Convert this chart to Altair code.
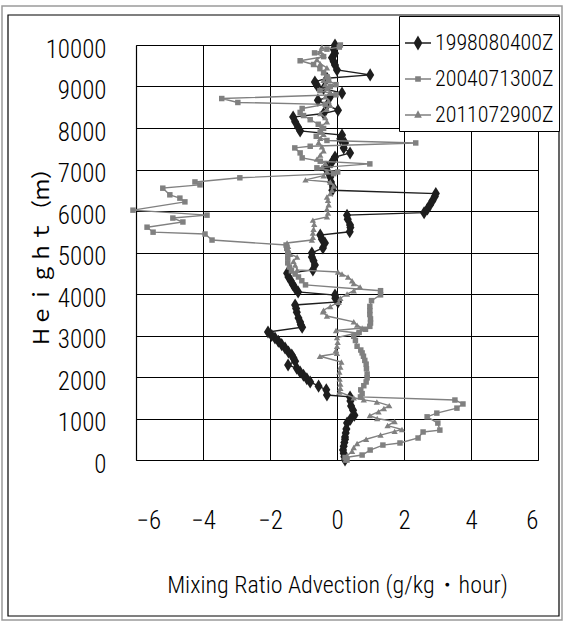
import altair as alt
import pandas as pd

FONT = "Roboto Condensed, DejaVu Sans Condensed, sans-serif"

series_names = ["1998080400Z", "2004071300Z", "2011072900Z"]
series_colors = ["#1e1e1e", "#808080", "#808080"]

# 1998080400Z (black diamonds)
h1 = [0, 80, 160, 240, 330, 420, 500, 554, 650, 750, 890, 980, 1080, 1200, 1300, 1420, 1520, 1565, 1690, 1780,
      1880, 1960, 2040, 2120, 2210, 2290, 2380, 2460, 2530, 2600, 2700, 2780, 2860, 2940, 3000, 3085, 3200, 3260, 3325, 3420,
      3560, 3650, 3735, 3810, 3900, 3975, 4050, 4140, 4230, 4320, 4410, 4500, 4580, 4700, 4800, 4890, 4990, 5110, 5230, 5320,
      5420, 5500, 5600, 5660, 5800, 5900, 5960, 6050, 6150, 6250, 6350, 6420, 6500, 6580, 6700, 6820, 6950, 7060, 7180, 7300,
      7400, 7520, 7640, 7740, 7830, 7930, 8020, 8150, 8265, 8350, 8430, 8550, 8670, 8760, 8840, 8950, 9030, 9110, 9200, 9280,
      9400, 9520, 9600, 9690, 9800, 9900, 10000]
a1 = [0.24, 0.22, 0.2, 0.18, 0.2, 0.22, 0.24, 0.24, 0.26, 0.28, 0.3, 0.4, 0.52, 0.48, 0.42, 0.4, 0.39, -0.3, -0.32, -0.55,
      -0.8, -0.9, -1.0, -1.1, -1.2, -1.46, -1.25, -1.3, -1.35, -1.45, -1.55, -1.65, -1.75, -1.85, -1.95, -2.06, -1.04, -1.08, -1.1, -1.15,
      -1.2, -1.22, -1.25, 0.03, -0.05, -0.06, -1.16, -1.25, -1.32, -1.38, -1.45, -1.49, -0.72, -0.66, -0.7, -0.75, -0.75, -0.42, -0.36, -0.45,
      -0.5, 0.38, 0.4, 0.39, 0.32, 0.3, 2.6, 2.7, 2.78, 2.85, 2.92, 2.95, -0.14, -0.12, -0.18, -0.2, -0.28, -0.3, -0.15, -0.06,
      0.39, 0.2, 0.24, 0.1, 0.15, -1.1, -1.16, -1.25, -1.31, -0.4, 0.03, -0.3, -0.57, -0.2, 0.15, -0.4, -0.6, -0.66, -0.3, 0.99,
      0.0, -0.06, -0.1, -0.15, -0.06, -0.1, -0.06]

# 2004071300Z (grey squares)
h2 = [0, 60, 120, 240, 360, 410, 530, 675, 720, 890, 1040, 1130, 1250, 1350, 1445, 1520, 1600, 1690, 1790, 1880,
      1980, 2070, 2200, 2310, 2400, 2500, 2580, 2650, 2740, 2880, 2980, 3075, 3150, 3220, 3300, 3400, 3505, 3600, 3700, 3840,
      3980, 4080, 4220, 4320, 4410, 4480, 4560, 4650, 4750, 4870, 4990, 5100, 5180, 5300, 5445, 5490, 5610, 5735, 5830, 5900,
      6020, 6220, 6310, 6390, 6550, 6630, 6700, 6800, 6900, 6940, 7040, 7135, 7200, 7280, 7400, 7520, 7560, 7640, 7700, 7800,
      7900, 7990, 8090, 8200, 8300, 8375, 8470, 8570, 8615, 8710, 8800, 8900, 9000, 9045, 9140, 9235, 9330, 9430, 9530, 9620,
      9720, 9810, 9900, 9950, 10000]
a2 = [0.3, 0.24, 0.75, 0.99, 1.37, 1.88, 2.42, 2.57, 3.07, 3.01, 2.69, 2.98, 3.58, 3.76, 3.52, 0.7, 0.75, 0.71, 0.8, 0.87,
      0.9, 0.9, 0.88, 0.87, 0.83, 0.79, 0.75, 0.71, 0.6, 0.55, 0.5, 0.66, 0.85, 0.98, 1.0, 1.0, 0.98, 0.98, 0.98, 1.03,
      1.3, 1.3, -0.94, -1.05, -1.15, -1.25, -1.36, -1.42, -1.47, -1.47, -1.47, -1.5, -1.52, -3.73, -3.94, -5.49, -5.67, -4.6, -4.9, -3.88,
      -6.09, -4.54, -4.69, -4.99, -5.2, -4.09, -4.24, -2.9, -0.1, 0.02, -0.6, 0.98, -0.5, -1.04, -1.1, -1.26, -0.8, 2.35, -0.3, -0.62,
      -0.5, -0.4, -0.56, -0.8, -1.0, -1.1, -1.04, -0.35, -2.96, -3.44, -0.03, -0.51, -0.2, -0.03, -0.25, -0.3, -0.4, -0.51, -0.7, -1.1,
      -0.4, -0.67, -0.3, 0.07, 0.1]

# 2011072900Z (grey triangles)
h3 = [0, 100, 210, 300, 400, 500, 600, 690, 735, 830, 925, 1000, 1070, 1165, 1240, 1310, 1400, 1450, 1500, 1640,
      1730, 1830, 1950, 2120, 2240, 2360, 2500, 2570, 2645, 2740, 2840, 2950, 3060, 3120, 3180, 3250, 3330, 3470, 3570, 3610,
      3700, 3800, 3900, 4000, 4080, 4170, 4250, 4320, 4410, 4480, 4530, 4580, 4700, 4790, 4890, 4960, 5060, 5150, 5230, 5300,
      5370, 5470, 5560, 5680, 5780, 5860, 5950, 6050, 6150, 6260, 6340, 6420, 6500, 6600, 6700, 6750, 6850, 6950, 7050, 7150,
      7250, 7350, 7450, 7550, 7650, 7750, 7850, 7950, 8050, 8150, 8250, 8350, 8450, 8550, 8650, 8750, 8850, 8950, 9050, 9150,
      9250, 9350, 9450, 9550, 9650, 9750, 9850, 9950]
a3 = [0.25, 0.3, 0.45, 0.5, 0.6, 0.87, 1.3, 1.72, 1.94, 1.51, 1.72, 1.2, 0.98, 1.24, 1.4, 1.56, 1.19, 0.8, 0.5, 0.07,
      0.1, 0.1, 0.08, 0.07, 0.1, 0.13, -0.51, 0.0, -0.03, 0.0, 0.02, 0.0, 0.6, -0.03, 0.75, 0.6, 0.5, -0.3, -0.42, -0.4,
      -0.2, 0.05, 0.1, 0.3, 0.5, 0.69, 0.5, 0.45, 0.33, 0.15, 0.03, -1.19, -1.25, -1.3, -1.19, -1.4, -1.45, -1.46, -1.49, -0.75,
      -0.72, -0.72, -0.7, -0.68, -0.72, -0.3, -0.27, -0.3, -0.25, -0.27, -0.3, -0.2, -0.15, -0.1, -0.2, -0.94, -0.4, -0.3, -0.45, -0.35,
      -0.6, -0.5, -0.4, -0.45, -0.55, -0.5, -0.4, -0.5, -0.45, -0.3, -0.35, -0.5, -0.3, -0.2, -0.25, -0.35, -0.2, -0.3, -0.35, -0.4,
      -0.25, -0.4, -0.3, -0.5, -0.6, -0.4, -0.5, -0.45]

x_ticks = [-6, -4, -2, 0, 2, 4, 6]
y_ticks = [0, 1000, 2000, 3000, 4000, 5000, 6000, 7000, 8000, 9000, 10000]

frames = []
for name, hs, vs in [(series_names[0], h1, a1), (series_names[1], h2, a2), (series_names[2], h3, a3)]:
    frames.append(pd.DataFrame({"series": name, "h": hs, "adv": vs}))
df = pd.concat(frames, ignore_index=True)

marker_shapes = [
    "M0,-1L0.62,0L0,1L-0.62,0Z",
    "square",
    "triangle-up",
]
marker_sizes = [170, 30, 40]
legend_paths = [
    "M-1,0L1,0M0,-0.46L0.27,0L0,0.46L-0.27,0Z",
    "M-1,0L1,0M-0.16,-0.16L0.16,-0.16L0.16,0.16L-0.16,0.16Z",
    "M-1,0L1,0M0,-0.24L0.2,0.16L-0.2,0.16Z",
]

x_enc = alt.X(
    "adv:Q",
    scale=alt.Scale(domain=[-6, 6], nice=False),
    axis=alt.Axis(
        values=x_ticks, format="d", ticks=False, labelPadding=48,
        labelFont=FONT, labelFontSize=25, labelFontWeight=300, labelColor="black",
        domainColor="black", domainWidth=1.2, gridColor="black", gridWidth=1,
        title="Mixing Ratio Advection (g/kg・hour)",
        titleFont=FONT, titleFontSize=24, titleFontWeight=300, titleColor="black",
        titleX=201, titleY=132, titleAlign="center", titleBaseline="alphabetic",
    ),
)
y_enc = alt.Y(
    "h:Q",
    scale=alt.Scale(domain=[0, 10000], nice=False),
    axis=alt.Axis(
        values=y_ticks, format="d", ticks=False, labelPadding=30, labelOffset=4,
        labelFont=FONT, labelFontSize=25, labelFontWeight=300, labelColor="black",
        domainColor="black", domainWidth=1.2, gridColor="black", gridWidth=1,
        title="Ｈｅｉｇｈｔ（ｍ）",
        titleFont="Noto Sans CJK JP", titleFontSize=21, titleFontWeight="normal", titleColor="black",
        titleAngle=270, titleX=-94, titleY=207, titleAlign="center", titleBaseline="middle",
    ),
)

layers = []
for i, name in enumerate(series_names):
    layer = (
        alt.Chart(df)
        .transform_filter(alt.datum.series == name)
        .mark_line(
            color=series_colors[i], strokeWidth=1.4,
            point=alt.OverlayMarkDef(shape=marker_shapes[i], size=marker_sizes[i], filled=True,
                                     color=series_colors[i], opacity=1),
        )
        .encode(x=x_enc, y=y_enc, order=alt.Order("h:Q"))
    )
    layers.append(layer)

legend_layer = (
    alt.Chart(df)
    .mark_point(opacity=0, filled=True, strokeWidth=1.5)
    .encode(
        x=x_enc, y=y_enc,
        shape=alt.Shape("series:N", scale=alt.Scale(domain=series_names, range=legend_paths),
                        legend=alt.Legend(title=" ")),
        fill=alt.Fill("series:N", scale=alt.Scale(domain=series_names, range=series_colors),
                      legend=alt.Legend(title=" ")),
        stroke=alt.Stroke("series:N", scale=alt.Scale(domain=series_names, range=series_colors),
                          legend=alt.Legend(title=" ")),
    )
)

frame_df = pd.DataFrame({"k": [0]})
outer_frame = alt.Chart(frame_df).mark_rect(fillOpacity=0, stroke="#9a9a9a", strokeWidth=1.5).encode(
    x=alt.value(-134), x2=alt.value(426), y=alt.value(-39), y2=alt.value(575)
)
inner_frame = alt.Chart(frame_df).mark_rect(fillOpacity=0, stroke="black", strokeWidth=1.2).encode(
    x=alt.value(-128), x2=alt.value(423), y=alt.value(-30), y2=alt.value(571)
)

chart = (
    alt.layer(outer_frame, inner_frame, *layers, legend_layer)
    .properties(
        width=402, height=415,
        autosize=alt.AutoSizeParams(type="none"),
        padding={"left": 136, "top": 45, "right": 26, "bottom": 161},
        background="white",
    )
    .configure_view(stroke=None)
    .configure_legend(
        orient="none", legendX=263, legendY=-29,
        strokeColor="black", fillColor="white", padding=5,
        titleFontSize=8, titlePadding=0,
        symbolSize=676, symbolStrokeWidth=1.5, symbolOpacity=1,
        labelFont=FONT, labelFontSize=22, labelFontWeight=300, labelColor="black",
        rowPadding=11, labelOffset=3, cornerRadius=0,
    )
)

chart.save("out.html", embed_options={"renderer": "svg", "actions": False})
